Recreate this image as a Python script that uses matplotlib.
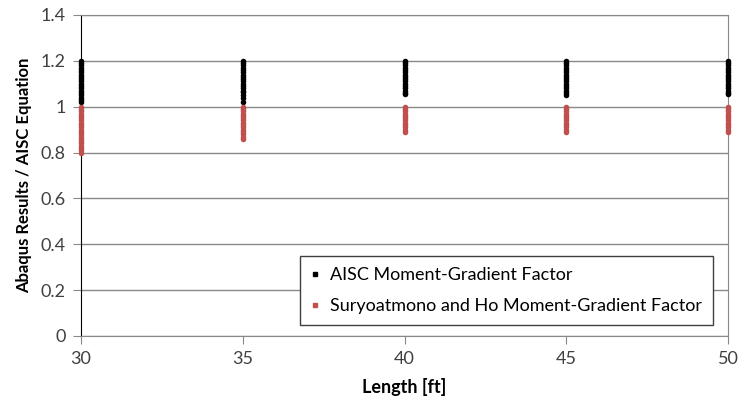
import matplotlib.pyplot as plt

# --- DATA ---
lengths = [30, 35, 40, 45, 50]

aisc_ratio = {
    30: [1.20, 1.19, 1.18, 1.17, 1.16, 1.15, 1.14, 1.13, 1.12, 1.11, 1.10, 1.09,
         1.08, 1.07, 1.06, 1.05, 1.04, 1.03, 1.02],
    35: [1.20, 1.19, 1.18, 1.17, 1.16, 1.15, 1.14, 1.13, 1.12, 1.11, 1.10, 1.09,
         1.08, 1.07, 1.065, 1.05, 1.04, 1.02],
    40: [1.20, 1.19, 1.18, 1.17, 1.16, 1.15, 1.14, 1.13, 1.12, 1.11, 1.10, 1.09,
         1.08, 1.07, 1.06, 1.055],
    45: [1.20, 1.19, 1.18, 1.17, 1.16, 1.15, 1.14, 1.13, 1.12, 1.11, 1.10, 1.09,
         1.08, 1.07, 1.06, 1.05],
    50: [1.20, 1.19, 1.18, 1.17, 1.16, 1.15, 1.14, 1.13, 1.12, 1.11, 1.10, 1.09,
         1.08, 1.07, 1.06, 1.055],
}

sh_ratio = {
    30: [1.00, 0.99, 0.98, 0.97, 0.96, 0.95, 0.94, 0.93, 0.92, 0.91, 0.90, 0.89,
         0.88, 0.87, 0.86, 0.85, 0.84, 0.83, 0.82, 0.81, 0.80],
    35: [1.00, 0.99, 0.98, 0.97, 0.96, 0.95, 0.94, 0.93, 0.92, 0.91, 0.90, 0.89,
         0.88, 0.87, 0.86],
    40: [1.00, 0.99, 0.98, 0.97, 0.96, 0.95, 0.94, 0.93, 0.92, 0.91, 0.90, 0.89],
    45: [1.00, 0.99, 0.98, 0.97, 0.96, 0.95, 0.94, 0.93, 0.92, 0.91, 0.90, 0.89],
    50: [1.00, 0.99, 0.98, 0.97, 0.96, 0.95, 0.94, 0.93, 0.92, 0.91, 0.90, 0.89],
}

yticks = [0, 0.2, 0.4, 0.6, 0.8, 1, 1.2, 1.4]
ytick_labels = ["0", "0.2", "0.4", "0.6", "0.8", "1", "1.2", "1.4"]

# --- PLOT ---
plt.rcParams["font.family"] = ["Lato", "DejaVu Sans"]
fig = plt.figure(figsize=(7.4, 4.05), dpi=100)
ax = fig.add_axes([0.1095, 0.1704, 0.8745, 0.7926])

grid_color = "#898989"
red = "#C0504D"

for L in lengths:
    ax.plot([L] * len(aisc_ratio[L]), aisc_ratio[L], "o", color="black",
            markersize=4, markeredgewidth=0, zorder=3, clip_on=False)
    ax.plot([L] * len(sh_ratio[L]), sh_ratio[L], "o", color=red,
            markersize=4, markeredgewidth=0, zorder=3, clip_on=False)

# legend handles
ax.plot([], [], "s", color="black", markersize=2.5, label="AISC Moment-Gradient Factor")
ax.plot([], [], "s", color=red, markersize=2.5, label="Suryoatmono and Ho Moment-Gradient Factor")

ax.set_xlim(30, 50)
ax.set_ylim(0, 1.4)
ax.set_xticks(lengths)
ax.set_yticks(yticks)
ax.set_yticklabels(ytick_labels)
ax.yaxis.grid(True, color=grid_color, linewidth=1)
ax.set_axisbelow(True)

for side in ["top", "right"]:
    ax.spines[side].set_color(grid_color)
ax.spines["bottom"].set_color(grid_color)
ax.spines["left"].set_color("black")
ax.tick_params(axis="x", direction="out", length=6, color=grid_color,
               labelsize=13, labelcolor="#404040", pad=5)
ax.tick_params(axis="y", direction="out", length=6, color=grid_color,
               labelsize=13, labelcolor="#404040", pad=5)

ax.set_xlabel("Length [ft]", fontsize=13, fontweight="bold", labelpad=8)
ax.set_ylabel("Abaqus Results / AISC Equation", fontsize=12, fontweight="bold", labelpad=6)

leg = ax.legend(loc="lower right", bbox_to_anchor=(0.977, 0.034), fontsize=13,
                frameon=True, fancybox=False, edgecolor="#404040",
                handlelength=0.5, handletextpad=0.6, labelspacing=0.85,
                borderpad=0.6, borderaxespad=0, framealpha=1)
leg.get_frame().set_linewidth(1)

fig.savefig("out.png", dpi=100)
